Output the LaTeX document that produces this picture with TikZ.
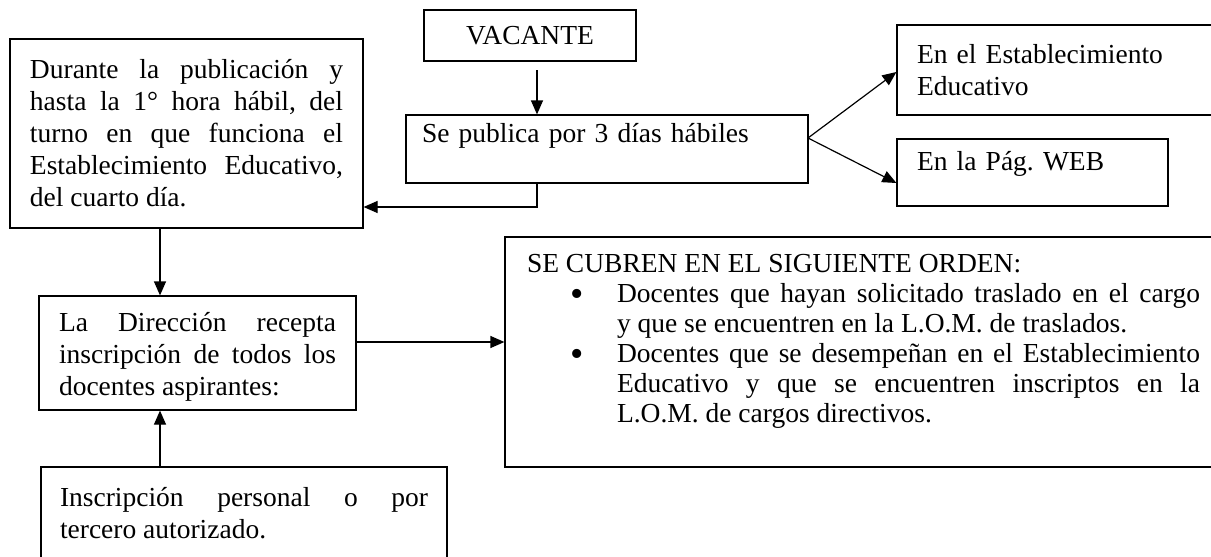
\documentclass[tikz,border=0pt]{standalone}
\usepackage{fontspec}
\setmainfont{Liberation Serif}
\usetikzlibrary{arrows.meta,calc}
\frenchspacing
\newcommand{\bigbul}{\makebox[0pt]{\raisebox{-3.5pt}{\fontsize{38}{30}\selectfont\textbullet}}}
\begin{document}
\begin{tikzpicture}[x=1pt,y=-1pt,
  box/.style={draw, line width=1.2pt, inner sep=0pt, font=\fontsize{27.5}{32}\selectfont\frenchspacing},
  arr/.style={line width=1.2pt, -{Triangle[length=14pt,width=12pt]}}]
\useasboundingbox (0,0) rectangle (1211,557);
% boxes
\node[box, minimum width=353pt, minimum height=189pt, text width=313pt, align=justify] (A) at (186.5,133.5)
  {Durante la publicación y\linebreak hasta la 1° hora hábil, del\linebreak turno en que funciona el\linebreak Establecimiento Educativo,\linebreak del cuarto día.};
\node[box, minimum width=212pt, minimum height=51pt] (VAC) at (530,35.5) {VACANTE};
\node[box, minimum width=402pt, minimum height=68pt, text width=370pt, align=left] (PUB) at (607,149)
  {Se publica por 3 días hábiles\\\mbox{}};
\node[box, minimum width=320pt, minimum height=90pt, text width=280pt, align=left] (EST) at (1057,70)
  {En el Establecimiento\\Educativo};
\node[box, minimum width=271pt, minimum height=67pt, text width=231pt, align=left] (WEB) at (1032.5,172.5)
  {En la Pág. WEB\\[-8pt]\mbox{}};
\node[box, minimum width=712pt, minimum height=230pt] (BIG) at (861,352)
  {\hspace*{5pt}\begin{minipage}{673pt}\fontsize{27.5}{30}\selectfont\frenchspacing\noindent SE CUBREN EN EL SIGUIENTE ORDEN:\par
   \noindent\hangindent=90pt\hangafter=1\hspace*{50pt}\bigbul\hspace*{40pt}Docentes que hayan solicitado traslado en el cargo\linebreak y que se encuentren en la L.O.M. de traslados.\par
   \noindent\hangindent=90pt\hangafter=1\hspace*{50pt}\bigbul\hspace*{40pt}Docentes que se desempeñan en el Establecimiento\linebreak Educativo y que se encuentren inscriptos en la\linebreak L.O.M. de cargos directivos.\par
   \vspace{21pt}\end{minipage}};
\node[box, minimum width=317pt, minimum height=114pt, text width=277pt, align=justify] (DIR) at (197.5,353)
  {\rule{0pt}{27pt}La Dirección recepta\linebreak inscripción de todos los\linebreak docentes aspirantes:};
\node[box, minimum width=406pt, minimum height=93pt, text width=368pt, align=justify] (INS) at (244,513.5)
  {Inscripción personal o por\linebreak tercero autorizado.};
% connectors
\coordinate (v1) at (537,70);
\draw[arr] (v1) -- (v1 |- PUB.north);
\coordinate (p2) at (537,207);
\draw[arr] (p2 |- PUB.south) -- (p2) -- (p2 -| A.east);
\coordinate (s) at (808,138);
\draw[arr] (s) -- ([yshift=-2pt]EST.west);
\draw[arr] (s) -- ([yshift=-10.5pt]WEB.west);
\coordinate (cx) at (160,0);
\draw[arr] (A.south -| cx) -- (DIR.north -| cx);
\draw[arr] (INS.north -| cx) -- (DIR.south -| cx);
\coordinate (dy) at (0,342);
\draw[arr] (DIR.east |- dy) -- (BIG.west |- dy);
\end{tikzpicture}
\end{document}
